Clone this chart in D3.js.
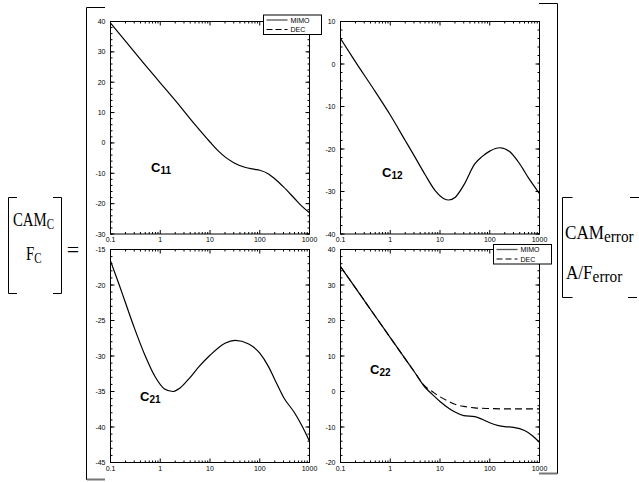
<!DOCTYPE html>
<html>
<head>
<meta charset="utf-8">
<script src="https://cdn.jsdelivr.net/npm/d3@7"></script>
<style>
  body { margin: 0; background: #fff; }
  text { font-family: "Liberation Sans", Arial, sans-serif; }
  .serif { font-family: "Liberation Serif", "Times New Roman", serif; }
</style>
</head>
<body>
<svg id="grafico" width="639" height="482"></svg>
<script>
// Eje x (frecuencia, escala log) comun a los 4 graficos
const xTicks = [0.1, 1, 10, 100, 1000];
const xTickLabels = ["0.1", "1", "10", "100", "1000"];

// C11
const freq11 = [0.1, 0.2, 0.5, 1, 2, 5, 10, 15, 20, 30, 50, 80, 100, 150, 200, 300, 500, 700, 1000];
const mimo11 = [39.5, 33.5, 25.6, 19.8, 14, 6, 0.3, -2.8, -4.6, -6.5, -8, -8.7, -9, -10.2, -11.8, -14.5, -18.3, -20.8, -23];
const yTicks11 = [40, 30, 20, 10, 0, -10, -20, -30];

// C12
const freq12 = [0.1, 0.2, 0.5, 1, 2, 3, 5, 8, 12, 15, 20, 30, 50, 70, 100, 160, 250, 400, 600, 1000];
const mimo12 = [6, 0.5, -6.5, -12, -18, -21.5, -26, -29.8, -31.7, -32, -31.4, -28.5, -23.5, -21.8, -20.5, -19.7, -20.6, -23.5, -26.8, -30.5];
const yTicks12 = [10, 0, -10, -20, -30, -40];

// C21
const freq21 = [0.1, 0.15, 0.2, 0.3, 0.5, 0.8, 1.2, 1.8, 2.5, 4, 6, 10, 20, 32, 60, 100, 150, 200, 300, 500, 700, 1000];
const mimo21 = [-16.6, -20, -22.5, -26, -30, -33, -34.6, -35, -34.5, -33, -31.5, -29.9, -28.2, -27.8, -28.3, -29.6, -31.5, -33.3, -35.8, -38, -39.8, -42];
const yTicks21 = [-15, -20, -25, -30, -35, -40, -45];

// C22 (MIMO y DEC)
const freq22 = [0.1, 0.2, 0.5, 1, 2, 3, 5, 7, 10, 15, 20, 30, 50, 70, 100, 150, 200, 300, 500, 700, 1000];
const mimo22 = [35.2, 29.2, 21.2, 15.2, 9.2, 5.7, 1.2, -0.8, -2.8, -4.7, -5.8, -6.8, -7.1, -7.8, -8.8, -9.6, -9.9, -10.1, -11, -12.3, -14.3];
const freqDec22 = [0.1, 0.2, 0.5, 1, 2, 3, 5, 7, 10, 15, 20, 30, 50, 100, 200, 500, 1000];
const dec22 = [35.2, 29.2, 21.2, 15.2, 9.2, 5.7, 1.5, 0, -1.5, -2.8, -3.6, -4.2, -4.6, -4.8, -4.9, -4.9, -4.9];
const yTicks22 = [40, 30, 20, 10, 0, -10, -20];

const legendLabels = ["MIMO", "DEC"];

const svg = d3.select("#grafico");

// Configuracion de cada panel (posicion en pixeles)
const paneles = [
  { x: 110.5, y: 21.5, w: 199, h: 212.5, yTicks: yTicks11, freq: freq11, mimo: mimo11, sub: "11", lx: 151, ly: 167, legend: [263.5, 15] },
  { x: 340.5, y: 21.5, w: 199, h: 212.5, yTicks: yTicks12, freq: freq12, mimo: mimo12, sub: "12", lx: 382, ly: 172 },
  { x: 110.5, y: 249.5, w: 199, h: 213, yTicks: yTicks21, freq: freq21, mimo: mimo21, sub: "21", lx: 140, ly: 396 },
  { x: 340.5, y: 249.5, w: 199, h: 213, yTicks: yTicks22, freq: freq22, mimo: mimo22, decFreq: freqDec22, dec: dec22, sub: "22", lx: 370, ly: 369, legend: [493.5, 244.5] }
];

// Ticks menores del eje log
const minorX = [];
[0.1, 1, 10, 100].forEach(d => { for (let k = 2; k <= 9; k++) minorX.push(d * k); });

paneles.forEach(p => {
  const g = svg.append("g").attr("transform", "translate(" + p.x + "," + p.y + ")");
  const x = d3.scaleLog().domain([0.1, 1000]).range([0, p.w]);
  const y = d3.scaleLinear().domain([d3.min(p.yTicks), d3.max(p.yTicks)]).range([p.h, 0]);

  // Marco
  g.append("rect").attr("width", p.w).attr("height", p.h)
    .attr("fill", "none").attr("stroke", "#000").attr("stroke-width", 1);

  // Ticks x (abajo y arriba, hacia dentro)
  const tx = g.append("g");
  xTicks.forEach(t => {
    tx.append("line").attr("x1", x(t)).attr("x2", x(t)).attr("y1", p.h).attr("y2", p.h - 4).attr("stroke", "#000");
    tx.append("line").attr("x1", x(t)).attr("x2", x(t)).attr("y1", 0).attr("y2", 4).attr("stroke", "#000");
  });
  minorX.forEach(t => {
    tx.append("line").attr("x1", x(t)).attr("x2", x(t)).attr("y1", p.h).attr("y2", p.h - 2).attr("stroke", "#000");
    tx.append("line").attr("x1", x(t)).attr("x2", x(t)).attr("y1", 0).attr("y2", 2).attr("stroke", "#000");
  });
  xTicks.forEach((t, i) => {
    g.append("text").attr("x", x(t)).attr("y", p.h + 5.5)
      .attr("text-anchor", "middle").attr("dominant-baseline", "central")
      .style("font-size", "7px").text(xTickLabels[i]);
  });

  // Ticks y (izquierda y derecha)
  const paso = (p.yTicks[0] - p.yTicks[1]) / 5;
  const minorY = d3.range(d3.min(p.yTicks), d3.max(p.yTicks) + 0.001, paso);
  minorY.forEach(t => {
    g.append("line").attr("x1", 0).attr("x2", 2).attr("y1", y(t)).attr("y2", y(t)).attr("stroke", "#000");
    g.append("line").attr("x1", p.w).attr("x2", p.w - 2).attr("y1", y(t)).attr("y2", y(t)).attr("stroke", "#000");
  });
  p.yTicks.forEach(t => {
    g.append("line").attr("x1", 0).attr("x2", 4).attr("y1", y(t)).attr("y2", y(t)).attr("stroke", "#000");
    g.append("line").attr("x1", p.w).attr("x2", p.w - 4).attr("y1", y(t)).attr("y2", y(t)).attr("stroke", "#000");
    g.append("text").attr("x", -5).attr("y", y(t))
      .attr("text-anchor", "end").attr("dominant-baseline", "central")
      .style("font-size", "7px").text(t);
  });

  // Curvas
  const linea = d3.line().x(d => x(d[0])).y(d => y(d[1])).curve(d3.curveMonotoneX);
  if (p.dec) {
    g.append("path").datum(d3.zip(p.decFreq, p.dec)).attr("d", linea)
      .attr("fill", "none").attr("stroke", "#000").attr("stroke-width", 1.1)
      .attr("stroke-dasharray", "7,4");
  }
  g.append("path").datum(d3.zip(p.freq, p.mimo)).attr("d", linea)
    .attr("fill", "none").attr("stroke", "#000").attr("stroke-width", 1.2);

  // Etiqueta Cij
  const lab = svg.append("text").attr("x", p.lx).attr("y", p.ly)
    .attr("dominant-baseline", "central")
    .style("font-weight", "bold").style("font-size", "13px");
  lab.append("tspan").text("C");
  lab.append("tspan").attr("dy", 3).style("font-size", "10px").text(p.sub);

  // Leyenda
  if (p.legend) {
    const lg = svg.append("g").attr("transform", "translate(" + p.legend[0] + "," + p.legend[1] + ")");
    lg.append("rect").attr("width", 58).attr("height", 19.5)
      .attr("fill", "#fff").attr("stroke", "#000").attr("stroke-width", 1);
    legendLabels.forEach((l, i) => {
      lg.append("line").attr("x1", 3).attr("x2", 24).attr("y1", 5 + i * 9.5).attr("y2", 5 + i * 9.5)
        .attr("stroke", i === 0 ? "#555" : "#000").attr("stroke-width", i === 0 ? 1.3 : 1)
        .attr("stroke-dasharray", i === 0 ? null : "6,3");
      lg.append("text").attr("x", 27).attr("y", 5 + i * 9.5)
        .attr("dominant-baseline", "central").style("font-size", "7px").text(l);
    });
  }
});

// Corchetes grandes de la matriz de controladores
function corchete(x, y1, y2, dx, color, ancho) {
  svg.append("path")
    .attr("d", "M" + (x + dx) + "," + y1 + "H" + x + "V" + y2 + "H" + (x + dx))
    .attr("fill", "none").attr("stroke", color || "#000").attr("stroke-width", ancho || 1);
}
corchete(86.5, 7.5, 479.5, 18.5);
corchete(557.5, 3.5, 473.5, -18.5);
svg.append("line").attr("x1", 539).attr("x2", 557).attr("y1", 473.5).attr("y2", 473.5)
  .attr("stroke", "#777").attr("stroke-width", 2);
svg.append("line").attr("x1", 87).attr("x2", 105).attr("y1", 479.5).attr("y2", 479.5)
  .attr("stroke", "#777").attr("stroke-width", 2);

// Vector izquierdo [CAMc ; Fc] =
corchete(8.5, 197.5, 293.5, 8.5);
corchete(61.5, 197.5, 293.5, -8.5);
function texto(x, y, base, sub, tam, tamSub, esc) {
  const t = svg.append("text").attr("class", "serif")
    .attr("transform", "translate(" + x + "," + y + ") scale(" + esc + ",1)")
    .style("font-size", tam + "px");
  t.append("tspan").text(base);
  t.append("tspan").attr("dy", 3).style("font-size", tamSub + "px").text(sub);
}
texto(13, 226, "CAM", "C", 19, 14, 0.78);
texto(26, 260, "F", "C", 19, 14, 0.78);
svg.append("text").attr("class", "serif").attr("x", 73).attr("y", 257)
  .attr("text-anchor", "middle").style("font-size", "22px").text("=");

// Vector derecho [CAMerror ; A/Ferror]
corchete(562.5, 197.5, 297.5, 10);
svg.append("line").attr("x1", 630).attr("x2", 639).attr("y1", 197.5).attr("y2", 197.5).attr("stroke", "#000");
svg.append("line").attr("x1", 628).attr("x2", 637).attr("y1", 297.5).attr("y2", 297.5).attr("stroke", "#000");
texto(565, 239, "CAM", "error", 19, 17, 0.9);
texto(566, 279, "A/F", "error", 19, 17, 0.9);
</script>
</body>
</html>
